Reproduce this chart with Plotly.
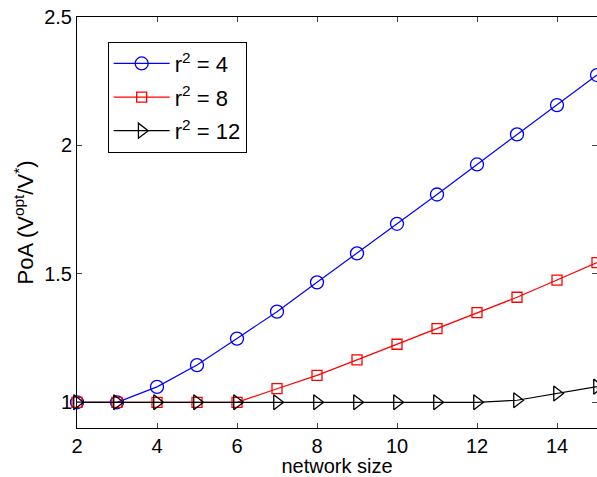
import plotly.graph_objects as go

network_size = [2, 3, 4, 5, 6, 7, 8, 9, 10, 11, 12, 13, 14, 15]
poa_r4 = [1.0, 1.0, 1.06, 1.145, 1.248, 1.353, 1.467, 1.58, 1.695, 1.809, 1.926, 2.043, 2.157, 2.274]
poa_r8 = [1.0, 1.0, 1.0, 1.0, 1.0, 1.053, 1.105, 1.165, 1.226, 1.287, 1.349, 1.409, 1.476, 1.544]
poa_r12 = [1.0, 1.0, 1.0, 1.0, 1.0, 1.0, 1.0, 1.0, 1.0, 1.0, 1.0, 1.008, 1.034, 1.061]
x_ticks = [2, 4, 6, 8, 10, 12, 14]
y_ticks = [1, 1.5, 2, 2.5]

font = "Liberation Sans, Arial, sans-serif"

fig = go.Figure()
fig.add_trace(go.Scatter(x=network_size, y=poa_r4, mode="lines+markers", name="r<sup>2</sup> = 4",
                         legendgroup="a",
                         line=dict(color="#0000ff", width=1.2),
                         marker=dict(symbol="circle-open", size=13, color="#0000ff", line=dict(width=1.3)),
                         cliponaxis=False))
fig.add_trace(go.Scatter(x=network_size, y=poa_r8, mode="lines+markers", name="r<sup>2</sup> = 8",
                         legendgroup="b",
                         line=dict(color="#ff0000", width=1.2),
                         marker=dict(symbol="square-open", size=10, color="#ff0000", line=dict(width=1.3)),
                         cliponaxis=False))
fig.add_trace(go.Scatter(x=network_size, y=poa_r12, mode="lines+markers", name="r<sup>2</sup> = 12",
                         legendgroup="c",
                         line=dict(color="#000000", width=1.2),
                         marker=dict(symbol="triangle-right-open", size=13, color="#000000", line=dict(width=1.3)),
                         cliponaxis=False))

fig.update_layout(
    width=597, height=477,
    margin=dict(l=77, r=0, t=17, b=49, autoexpand=False),
    paper_bgcolor="white", plot_bgcolor="white",
    font=dict(family=font, size=20, color="black"),
    showlegend=True,
    legend=dict(x=0.059, y=0.94, xanchor="left", yanchor="top",
                bordercolor="black", borderwidth=1, bgcolor="white",
                font=dict(size=22), traceorder="grouped", tracegroupgap=2,
                itemwidth=56),
    xaxis=dict(range=[2, 15], tickvals=x_ticks, ticks="inside", ticklen=5,
               showline=True, linecolor="black", linewidth=1, mirror="ticks",
               showgrid=False, zeroline=False, tickfont=dict(size=20),
               title=dict(text="network size", standoff=6, font=dict(size=20))),
    yaxis=dict(range=[0.9, 2.5], tickvals=y_ticks, ticktext=["1", "1.5", "2", "2.5"],
               ticks="inside", ticklen=5,
               showline=True, linecolor="black", linewidth=1, mirror="ticks",
               showgrid=False, zeroline=False, tickfont=dict(size=20),
               title=dict(text="PoA (V<sup>opt</sup>/V<sup>*</sup>)", standoff=4, font=dict(size=22))),
)

fig.write_html("out.html", config={"displayModeBar": False},
               post_script="document.body.style.margin='0';")
